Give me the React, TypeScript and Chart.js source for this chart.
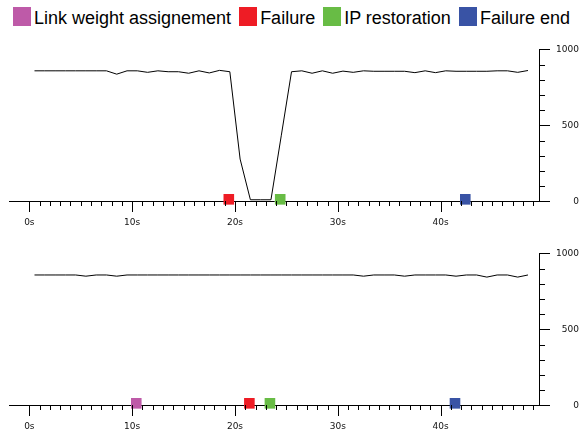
import React, { useEffect, useRef } from "react";
import { Chart, registerables } from "chart.js";

Chart.register(...registerables);

// ---- data ----
const sampleTimes = [
  0.5, 1.5, 2.5, 3.5, 4.5, 5.5, 6.5, 7.5, 8.5, 9.5,
  10.5, 11.5, 12.5, 13.5, 14.5, 15.5, 16.5, 17.5, 18.5, 19.5,
  20.5, 21.5, 22.5, 23.5, 24.5, 25.5, 26.5, 27.5, 28.5, 29.5,
  30.5, 31.5, 32.5, 33.5, 34.5, 35.5, 36.5, 37.5, 38.5, 39.5,
  40.5, 41.5, 42.5, 43.5, 44.5, 45.5, 46.5, 47.5, 48.5,
];

const topThroughput = [
  859, 859, 859, 859, 859, 859, 859, 859, 837, 859,
  859, 849, 859, 853, 853, 843, 859, 845, 862, 853,
  278, 10, 10, 10, 431, 853, 859, 843, 859, 843,
  857, 849, 859, 856, 856, 856, 856, 847, 859, 847,
  859, 856, 856, 856, 856, 859, 859, 849, 861,
];

const bottomThroughput = [
  858, 858, 858, 858, 858, 850, 858, 858, 850, 858,
  858, 858, 858, 858, 858, 858, 858, 858, 858, 858,
  858, 858, 858, 858, 858, 858, 858, 858, 858, 858,
  858, 858, 850, 858, 858, 858, 850, 858, 858, 858,
  858, 850, 858, 858, 844, 858, 858, 844, 858,
];

const eventLevel = 13;

const topLinkWeight: number[] = [];
const topFailure = [19.4];
const topRestoration = [24.4];
const topFailureEnd = [42.4];

const bottomLinkWeight = [10.4];
const bottomFailure = [21.4];
const bottomRestoration = [23.4];
const bottomFailureEnd = [41.4];

const legendLabels = ["Link weight assignement", "Failure", "IP restoration", "Failure end"];
const legendColors = ["#BE5AA8", "#EE1C25", "#68BC45", "#3953A5"];

const xLabelTicks = [0, 10, 20, 30, 40];
const yLabelTicks = [0, 500, 1000];

// ---- styles / layout ----
const CANVAS_W = 579;
const CANVAS_H = 204;
const AREA_TOP = 9.3;
const AREA_BOTTOM = 171.3;
const AREA_LEFT = 9.3;
const Y_AXIS_W = 39.7;
const X_MIN = -1.95;
const X_MAX = 49.6;
const TICK_FONT = { family: '"DejaVu Sans", Verdana, sans-serif', size: 9 };

const ticksPlugin = {
  id: "customTicks",
  afterDraw(chart: any) {
    const { ctx, chartArea, scales } = chart;
    const xs = scales.x;
    const ys = scales.y;
    ctx.save();
    ctx.strokeStyle = "#000";
    ctx.lineWidth = 1;
    ctx.beginPath();
    const yb = Math.round(chartArea.bottom);
    for (let v = 0; v <= 49; v += 1) {
      const px = Math.round(xs.getPixelForValue(v)) + 0.5;
      const len = v % 10 === 0 ? 11 : 5;
      ctx.moveTo(px, yb);
      ctx.lineTo(px, yb + len);
    }
    const xr = Math.round(chartArea.right);
    for (let v = 0; v <= 1000; v += 100) {
      const py = Math.round(ys.getPixelForValue(v)) + 0.5;
      const len = v % 500 === 0 ? 11 : 6;
      ctx.moveTo(xr, py);
      ctx.lineTo(xr + len, py);
    }
    ctx.stroke();
    ctx.restore();
  },
};

function eventDataset(times: number[], color: string) {
  return {
    type: "scatter" as const,
    data: times.map((t) => ({ x: t, y: eventLevel })),
    pointStyle: "rect",
    pointRadius: 7.5,
    pointHoverRadius: 7.5,
    borderWidth: 0,
    backgroundColor: color,
    borderColor: color,
    showLine: false,
    clip: false as any,
  };
}

function Panel(props: {
  values: number[];
  linkWeight: number[];
  failure: number[];
  restoration: number[];
  failureEnd: number[];
  top: number;
}) {
  const ref = useRef<HTMLCanvasElement | null>(null);
  useEffect(() => {
    if (!ref.current) return;
    const chart = new Chart(ref.current, {
      type: "scatter",
      data: {
        datasets: [
          eventDataset(props.linkWeight, legendColors[0]),
          eventDataset(props.failure, legendColors[1]),
          eventDataset(props.restoration, legendColors[2]),
          eventDataset(props.failureEnd, legendColors[3]),
          {
            type: "scatter",
            data: sampleTimes.map((t, i) => ({ x: t, y: props.values[i] })),
            showLine: true,
            borderColor: "#000",
            borderWidth: 1,
            pointRadius: 0,
            pointHoverRadius: 0,
            tension: 0,
            fill: false,
          } as any,
        ],
      },
      options: {
        responsive: false,
        animation: false,
        events: [],
        layout: { padding: { top: AREA_TOP, left: AREA_LEFT, right: 0, bottom: 0 } },
        plugins: { legend: { display: false }, tooltip: { enabled: false } },
        scales: {
          x: {
            type: "linear",
            position: "bottom",
            min: X_MIN,
            max: X_MAX,
            grid: { display: false, drawTicks: false },
            border: { display: true, color: "#000", width: 1 },
            afterBuildTicks: (s: any) => {
              s.ticks = xLabelTicks.map((v) => ({ value: v }));
            },
            afterFit: (s: any) => {
              s.height = CANVAS_H - AREA_BOTTOM;
            },
            ticks: {
              autoSkip: false,
              maxRotation: 0,
              padding: 16,
              color: "#111",
              font: TICK_FONT,
              callback: (v: any) => v + "s",
            },
          },
          y: {
            type: "linear",
            position: "right",
            min: 0,
            max: 1000,
            grid: { display: false, drawTicks: false },
            border: { display: true, color: "#000", width: 1 },
            afterBuildTicks: (s: any) => {
              s.ticks = yLabelTicks.map((v) => ({ value: v }));
            },
            afterFit: (s: any) => {
              s.width = Y_AXIS_W;
            },
            ticks: {
              crossAlign: "far",
              padding: 14,
              color: "#111",
              font: TICK_FONT,
              callback: (v: any) => String(v),
            },
          },
        },
      } as any,
      plugins: [ticksPlugin],
    });
    return () => chart.destroy();
  }, []);
  return (
    <canvas
      ref={ref}
      width={CANVAS_W}
      height={CANVAS_H}
      style={{ position: "absolute", left: 0, top: props.top, width: CANVAS_W, height: CANVAS_H }}
    />
  );
}

export default function App() {
  return (
    <div
      style={{
        position: "absolute",
        left: 0,
        top: 0,
        width: 579,
        height: 437,
        overflow: "hidden",
        background: "#fff",
      }}
    >
      <div
        style={{
          position: "absolute",
          left: 13,
          top: 7,
          height: 19,
          display: "flex",
          alignItems: "flex-start",
          fontFamily: '"Liberation Sans", Arial, sans-serif',
          fontSize: 18,
          color: "#000",
          whiteSpace: "nowrap",
        }}
      >
        {legendLabels.map((label, i) => (
          <div key={label} style={{ display: "flex", alignItems: "flex-start", marginRight: 8 }}>
            <div style={{ width: 18, height: 19, background: legendColors[i] }} />
            <span style={{ marginLeft: 3, lineHeight: "19px", position: "relative", top: 2 }}>{label}</span>
          </div>
        ))}
      </div>
      <Panel
        values={topThroughput}
        linkWeight={topLinkWeight}
        failure={topFailure}
        restoration={topRestoration}
        failureEnd={topFailureEnd}
        top={30}
      />
      <Panel
        values={bottomThroughput}
        linkWeight={bottomLinkWeight}
        failure={bottomFailure}
        restoration={bottomRestoration}
        failureEnd={bottomFailureEnd}
        top={234}
      />
    </div>
  );
}
